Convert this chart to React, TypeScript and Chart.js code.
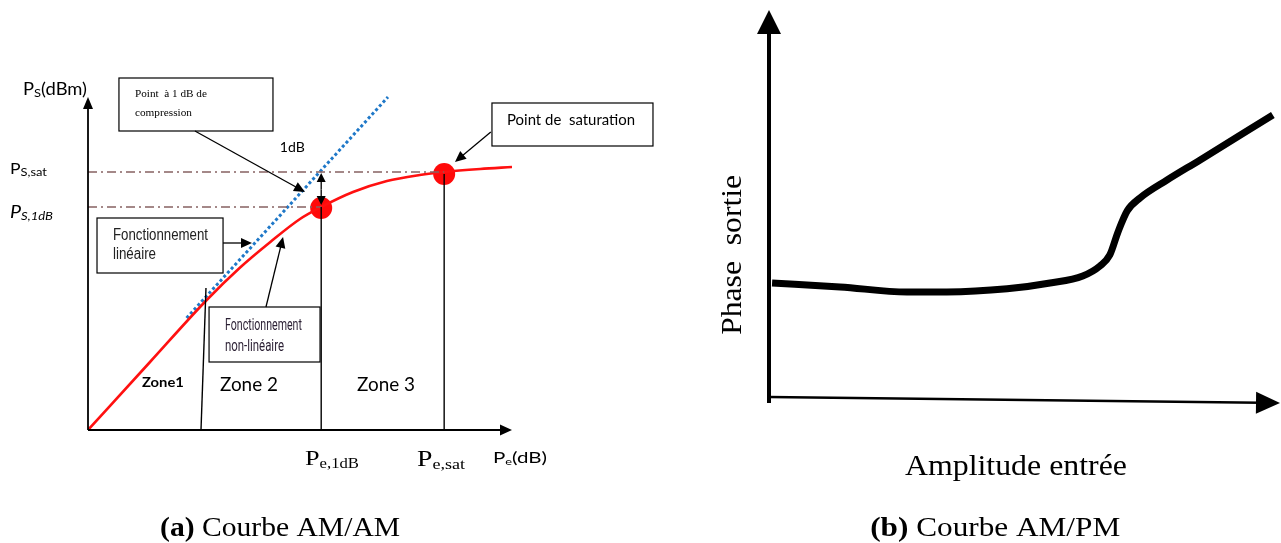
import React, { useEffect, useRef } from "react";
import { Chart, registerables } from "chart.js";

Chart.register(...registerables);

// ---------- (a) AM/AM ----------
const amamPe = [0, 5.85, 11.2, 14.3, 17.2, 20.0, 22.0, 25.0, 28.2, 31.3, 33.6, 37.0, 40.0];
const amamPs = [0, 6.8, 13.0, 16.2, 18.8, 21.1, 22.3, 23.8, 24.9, 25.5, 25.8, 26.1, 26.3];
const linearPe = [9.3, 28.3];
const linearPs = [11.2, 33.3];
const markerPe = [22.0, 33.6]; // P_e,1dB , P_e,sat
const markerPs = [22.2, 25.6];
const levelPs1dB = 22.3;
const levelPsSat = 25.8;
const zoneLimitPe = [10.66, 11.13];
const zoneLimitPs = [0, 14.2];
const axisMaxPe = 40;
const axisMaxPs = 33.3;

// ---------- (b) AM/PM ----------
const ampmAmp = [0.06, 1.39, 2.7, 3.48, 4.66, 5.5, 6.14, 6.48, 6.67, 6.83, 7.01, 7.26, 7.79, 8.43, 9.86];
const ampmPhase = [3.0, 2.9, 2.77, 2.77, 2.85, 3.0, 3.18, 3.44, 3.72, 4.31, 4.85, 5.18, 5.64, 6.15, 7.31];

const SANS = "Lato, 'Open Sans', sans-serif";
const SERIF = "'Liberation Serif', 'DejaVu Serif', serif";

type Part = { t: string; font: string; dy?: number };

function drawRich(ctx: CanvasRenderingContext2D, parts: Part[], x: number, y: number, width?: number, color = "#000") {
  ctx.save();
  const ws = parts.map((p) => {
    ctx.font = p.font;
    return ctx.measureText(p.t).width;
  });
  const total = ws.reduce((a, b) => a + b, 0);
  const sx = width ? width / total : 1;
  ctx.translate(x, y);
  ctx.scale(sx, 1);
  ctx.textBaseline = "alphabetic";
  ctx.textAlign = "left";
  ctx.fillStyle = color;
  let cx = 0;
  parts.forEach((p, i) => {
    ctx.font = p.font;
    ctx.fillText(p.t, cx, p.dy || 0);
    cx += ws[i];
  });
  ctx.restore();
}

function drawArrow(ctx: CanvasRenderingContext2D, x1: number, y1: number, x2: number, y2: number, head = 11, half = 5, lw = 1.3) {
  const a = Math.atan2(y2 - y1, x2 - x1);
  ctx.save();
  ctx.strokeStyle = "#000";
  ctx.fillStyle = "#000";
  ctx.lineWidth = lw;
  ctx.beginPath();
  ctx.moveTo(x1, y1);
  ctx.lineTo(x2 - head * 0.8 * Math.cos(a), y2 - head * 0.8 * Math.sin(a));
  ctx.stroke();
  ctx.beginPath();
  ctx.moveTo(x2, y2);
  ctx.lineTo(x2 - head * Math.cos(a) + half * Math.sin(a), y2 - head * Math.sin(a) - half * Math.cos(a));
  ctx.lineTo(x2 - head * Math.cos(a) - half * Math.sin(a), y2 - head * Math.sin(a) + half * Math.cos(a));
  ctx.closePath();
  ctx.fill();
  ctx.restore();
}

function line(ctx: CanvasRenderingContext2D, x1: number, y1: number, x2: number, y2: number, lw = 1.5, color = "#000", dash: number[] = []) {
  ctx.save();
  ctx.strokeStyle = color;
  ctx.lineWidth = lw;
  ctx.setLineDash(dash);
  ctx.beginPath();
  ctx.moveTo(x1, y1);
  ctx.lineTo(x2, y2);
  ctx.stroke();
  ctx.restore();
}

function box(ctx: CanvasRenderingContext2D, x1: number, y1: number, x2: number, y2: number) {
  ctx.save();
  ctx.fillStyle = "#fff";
  ctx.strokeStyle = "#000";
  ctx.lineWidth = 1.2;
  ctx.fillRect(x1, y1, x2 - x1, y2 - y1);
  ctx.strokeRect(x1, y1, x2 - x1, y2 - y1);
  ctx.restore();
}

const amamDecor = {
  id: "amamDecor",
  afterDatasetsDraw(chart: any) {
    const ctx: CanvasRenderingContext2D = chart.ctx;
    const X = (v: number) => chart.scales.x.getPixelForValue(v);
    const Y = (v: number) => chart.scales.y.getPixelForValue(v);
    const dashDot = [9, 4, 2, 4];
    const guide = "#866262";

    // guides
    line(ctx, X(0), Y(levelPsSat), X(markerPe[1]), Y(levelPsSat), 1.5, guide, dashDot);
    line(ctx, X(0), Y(levelPs1dB), X(markerPe[0]), Y(levelPs1dB), 1.5, guide, dashDot);
    line(ctx, X(zoneLimitPe[0]), Y(zoneLimitPs[0]), X(zoneLimitPe[1]), Y(zoneLimitPs[1]), 1.4);
    line(ctx, X(markerPe[0]), Y(0), X(markerPe[0]), Y(levelPs1dB), 1.4);
    line(ctx, X(markerPe[1]), Y(0), X(markerPe[1]), Y(markerPs[1]), 1.4);

    // axes
    drawArrow(ctx, X(0), Y(0), X(0), Y(axisMaxPs), 12, 5, 1.8);
    drawArrow(ctx, X(0), Y(0), X(axisMaxPe), Y(0), 12, 5.5, 1.8);

    // 1 dB double arrow
    const mid = (Y(levelPsSat) + Y(levelPs1dB)) / 2;
    drawArrow(ctx, X(markerPe[0]), mid, X(markerPe[0]), Y(levelPsSat) + 1, 9, 4.5, 1.3);
    drawArrow(ctx, X(markerPe[0]), mid, X(markerPe[0]), Y(levelPs1dB) - 2, 9, 4.5, 1.3);
    drawRich(ctx, [{ t: "1dB", font: `14px ${SANS}` }], X(18.1), Y(27.8), 25);

    // compression box
    box(ctx, X(2.92), Y(35.2), X(17.45), Y(29.9));
    drawRich(ctx, [{ t: "Point  à 1 dB de", font: `10px ${SERIF}` }], X(4.43), Y(33.3), 72);
    drawRich(ctx, [{ t: "compression", font: `10px ${SERIF}` }], X(4.43), Y(31.4), 57);
    drawArrow(ctx, X(10.09), Y(29.9), X(20.47), Y(23.8));

    // saturation box
    box(ctx, X(38.11), Y(32.7), X(53.3), Y(28.4));
    drawRich(ctx, [{ t: "Point de  saturation", font: `16px ${SANS}` }], X(39.53), Y(30.5), 128);
    drawArrow(ctx, X(38.0), Y(29.8), X(34.62), Y(26.8));

    // linear box
    box(ctx, X(0.85), Y(21.2), X(12.74), Y(15.7));
    drawRich(ctx, [{ t: "Fonctionnement", font: `16px 'Liberation Sans', Arial, sans-serif` }], X(2.36), Y(19.0), 95, "#222");
    drawRich(ctx, [{ t: "linéaire", font: `16px 'Liberation Sans', Arial, sans-serif` }], X(2.36), Y(17.1), 43, "#222");
    drawArrow(ctx, X(12.74), Y(18.7), X(15.47), Y(18.7));

    // non-linear box
    box(ctx, X(11.42), Y(12.3), X(21.89), Y(6.8));
    drawRich(ctx, [{ t: "Fonctionnement", font: `16px Roboto, sans-serif` }], X(12.92), Y(10.0), 77, "#2a1f33");
    drawRich(ctx, [{ t: "non-linéaire", font: `16px Roboto, sans-serif` }], X(12.92), Y(7.9), 59, "#2a1f33");
    drawArrow(ctx, X(16.79), Y(12.3), X(18.4), Y(19.3));

    // zones
    drawRich(ctx, [{ t: "Zone1", font: `bold 14px ${SANS}` }], X(5.09), Y(4.3), 42);
    drawRich(ctx, [{ t: "Zone 2", font: `20px ${SANS}` }], X(12.45), Y(3.9), 58);
    drawRich(ctx, [{ t: "Zone 3", font: `20px ${SANS}` }], X(25.38), Y(3.9), 58);

    // y labels
    drawRich(ctx, [
      { t: "P", font: `17px ${SANS}` },
      { t: "S", font: `12px ${SANS}`, dy: 2 },
      { t: "(dBm)", font: `17px ${SANS}` },
    ], X(-6.13), Y(33.5), 64);
    drawRich(ctx, [
      { t: "P", font: `15px ${SANS}` },
      { t: "S,sat", font: `11px ${SANS}`, dy: 2 },
    ], X(-7.36), Y(25.6), 37);
    drawRich(ctx, [
      { t: "P", font: `italic 18px ${SANS}` },
      { t: "S,1dB", font: `italic 12px ${SANS}`, dy: 2 },
    ], X(-7.36), Y(21.2), 43);

    // x labels
    drawRich(ctx, [
      { t: "P", font: `22px ${SERIF}` },
      { t: "e,1dB", font: `14px ${SERIF}`, dy: 3 },
    ], X(20.47), Y(-3.5), 54);
    drawRich(ctx, [
      { t: "P", font: `23px ${SERIF}` },
      { t: "e,sat", font: `15px ${SERIF}`, dy: 3 },
    ], X(31.04), Y(-3.6), 48);
    drawRich(ctx, [
      { t: "P", font: `16px ${SANS}` },
      { t: "e", font: `10px ${SANS}`, dy: 2 },
      { t: "(dB)", font: `16px ${SANS}` },
    ], X(38.2), Y(-3.3), 54);

    // caption
    drawRich(ctx, [
      { t: "(a)", font: `bold 27px ${SERIF}` },
      { t: " Courbe AM/AM", font: `27px ${SERIF}` },
    ], X(6.8), Y(-10.6), 240);
  },
};

const ampmDecor = {
  id: "ampmDecor",
  afterDatasetsDraw(chart: any) {
    const ctx: CanvasRenderingContext2D = chart.ctx;
    const X = (v: number) => chart.scales.x.getPixelForValue(v);
    const Y = (v: number) => chart.scales.y.getPixelForValue(v);

    drawArrow(ctx, X(0), Y(-0.08), X(0), Y(10), 24, 12, 4);
    drawArrow(ctx, X(0), Y(0.077), X(10), Y(-0.077), 24, 11, 2.6);

    ctx.save();
    ctx.translate(X(-0.548), Y(1.67));
    ctx.rotate(-Math.PI / 2);
    drawRich(ctx, [{ t: "Phase  sortie", font: `29px ${SERIF}` }], 0, 0, 160);
    ctx.restore();

    drawRich(ctx, [{ t: "Amplitude entrée", font: `29px ${SERIF}` }], X(2.66), Y(-1.92), 222);
    drawRich(ctx, [
      { t: "(b)", font: `bold 27px ${SERIF}` },
      { t: " Courbe AM/PM", font: `27px ${SERIF}` },
    ], X(1.98), Y(-3.49), 250);
  },
};

function AmAmChart() {
  const ref = useRef<HTMLCanvasElement | null>(null);
  useEffect(() => {
    if (!ref.current) return;
    const chart = new Chart(ref.current, {
      type: "scatter",
      data: {
        datasets: [
          {
            data: amamPe.map((x, i) => ({ x, y: amamPs[i] })),
            showLine: true,
            borderColor: "#ff1010",
            borderWidth: 2.6,
            pointRadius: 0,
            cubicInterpolationMode: "monotone",
          },
          {
            data: linearPe.map((x, i) => ({ x, y: linearPs[i] })),
            showLine: true,
            borderColor: "#1f78c8",
            borderWidth: 3,
            borderDash: [3, 2.5],
            pointRadius: 0,
          },
          {
            data: markerPe.map((x, i) => ({ x, y: markerPs[i] })),
            showLine: false,
            pointRadius: 11,
            pointBackgroundColor: "#ff0a0a",
            pointBorderWidth: 0,
          },
        ],
      } as any,
      options: {
        responsive: false,
        maintainAspectRatio: false,
        animation: false,
        events: [],
        layout: { padding: { left: 88, top: 90, right: 188, bottom: 113 } },
        plugins: { legend: { display: false }, tooltip: { enabled: false }, title: { display: false } },
        scales: {
          x: { type: "linear", min: 0, max: 40, display: false },
          y: { type: "linear", min: 0, max: 34, display: false },
        },
      } as any,
      plugins: [amamDecor],
    });
    return () => chart.destroy();
  }, []);
  return <canvas ref={ref} width={700} height={543} style={{ position: "absolute", left: 0, top: 0 }} />;
}

function AmPmChart() {
  const ref = useRef<HTMLCanvasElement | null>(null);
  useEffect(() => {
    if (!ref.current) return;
    const chart = new Chart(ref.current, {
      type: "scatter",
      data: {
        datasets: [
          {
            data: ampmAmp.map((x, i) => ({ x, y: ampmPhase[i] })),
            showLine: true,
            borderColor: "#000",
            borderWidth: 7,
            pointRadius: 0,
            cubicInterpolationMode: "monotone",
          },
        ],
      } as any,
      options: {
        responsive: false,
        maintainAspectRatio: false,
        animation: false,
        events: [],
        layout: { padding: { left: 69, top: 10, right: 1, bottom: 143 } },
        plugins: { legend: { display: false }, tooltip: { enabled: false }, title: { display: false } },
        scales: {
          x: { type: "linear", min: 0, max: 10, display: false },
          y: { type: "linear", min: 0, max: 10, display: false },
        },
      } as any,
      plugins: [ampmDecor],
    });
    return () => chart.destroy();
  }, []);
  return <canvas ref={ref} width={581} height={543} style={{ position: "absolute", left: 700, top: 0 }} />;
}

export default function App() {
  return (
    <div style={{ position: "absolute", left: 0, top: 0, width: 1281, height: 543, background: "#fff", overflow: "hidden" }}>
      <AmAmChart />
      <AmPmChart />
    </div>
  );
}
